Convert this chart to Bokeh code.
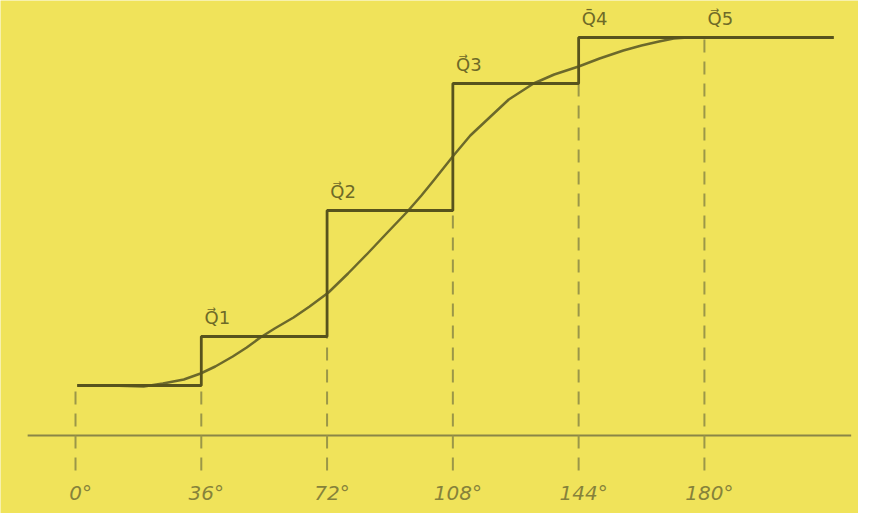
from bokeh.plotting import figure
from bokeh.models import Range1d
from bokeh.embed import file_html
from bokeh.resources import INLINE
from bokeh.core.properties import value

# --- data -------------------------------------------------------------
tick_deg = [0, 36, 72, 108, 144, 180]
tick_labels = ["0°", "36°", "72°", "108°", "144°", "180°"]

step_x = [0.5, 36, 72, 108, 144, 217]
step_levels = [0.50, 0.99, 2.25, 3.52, 3.98, 3.98]

curve_deg = [0.5, 10, 19.5, 25, 31, 35.8, 40, 45, 49, 52.9, 57, 62.4, 67, 72.4,
             78, 83.6, 89, 95, 99, 102.5, 108.2, 113, 118.8, 124, 131.1, 137,
             144, 150, 156.8, 162, 167, 171.2, 175.2, 190, 217]
curve_val = [0.50, 0.50, 0.49, 0.52, 0.56, 0.62, 0.69, 0.79, 0.88, 0.98, 1.07,
             1.18, 1.29, 1.43, 1.62, 1.82, 2.02, 2.24, 2.40, 2.55, 2.80, 3.00,
             3.19, 3.36, 3.52, 3.61, 3.69, 3.77, 3.85, 3.90, 3.94, 3.97, 3.98,
             3.98, 3.98]

q_labels = ["Q\u20d71", "Q\u20d72", "Q\u20d73", "Q\u03044", "Q\u20d75"]
q_deg = [36, 72, 108, 144, 180]
q_level = [0.99, 2.25, 3.52, 3.98, 3.98]

# dashed guides: top of each guide
guide_top = [0.50, 0.50, 0.99, 2.25, 3.52, 3.98]

axis_span = [-13.7, 222]

# --- styling ------------------------------------------------------------
BG = "#F0E35A"
STEP = "#57531d"
CURVE = "#6c692b"
LABEL = "#6e6a28"
TICK = "#86823a"
GUIDE = "#9b9748"
AXIS = "#8a8646"

p = figure(width=858, height=513, output_backend="svg", toolbar_location=None,
           x_range=Range1d(-21.47, 224.1), y_range=Range1d(-0.78, 4.35),
           min_border=0, background_fill_color=BG, border_fill_color=BG,
           outline_line_color=None)
p.axis.visible = False
p.grid.visible = False

# baseline
p.line(axis_span, [0, 0], line_color=AXIS, line_width=2)

# dashed guides
p.segment(x0=tick_deg, y0=[-0.35] * len(tick_deg), x1=tick_deg, y1=guide_top,
          line_color=GUIDE, line_width=2, line_dash="13 9")

# smooth curve
p.line(curve_deg, curve_val, line_color=CURVE, line_width=2.5,
       line_join="round")

# staircase
p.step(step_x, step_levels, mode="after", line_color=STEP, line_width=2.8)

# Q labels
p.text(x=q_deg, y=[v + 0.19 for v in q_level], text=q_labels,
       x_offset=16, text_align="center", text_baseline="middle",
       text_color=LABEL, text_font=value("DejaVu Sans"), text_font_size="18px")

# tick labels
p.text(x=tick_deg, y=[-0.57] * len(tick_deg), text=tick_labels,
       x_offset=5, text_align="center", text_baseline="middle",
       text_color=TICK, text_font=value("DejaVu Sans"), text_font_size="20px",
       text_font_style="italic")

open("out.html", "w").write(file_html(p, INLINE))
